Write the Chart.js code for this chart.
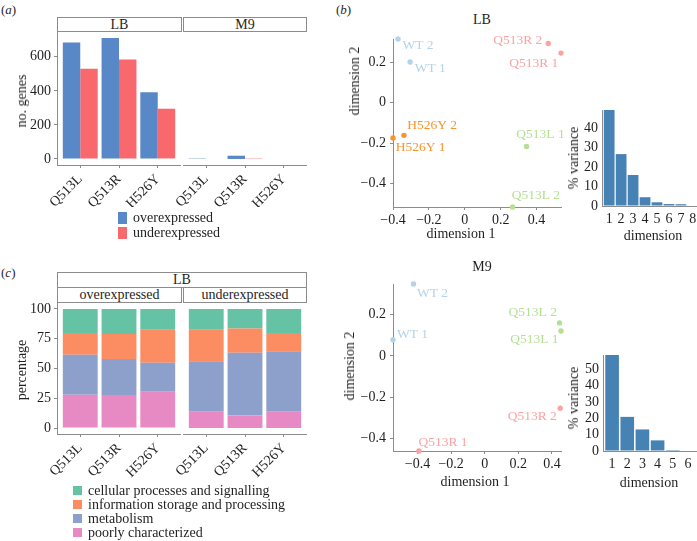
<!DOCTYPE html>
<html>
<head>
<meta charset="utf-8">
<script src="https://cdn.jsdelivr.net/npm/chart.js@4"></script>
<style>
  html, body { margin: 0; padding: 0; background: #fff; overflow: hidden; }
  #fig { position: relative; width: 697px; height: 541px; font-family: "Liberation Serif", "Times New Roman", serif; color: #1f1f1f; }
  #fig canvas { position: absolute; }
  .t { position: absolute; white-space: nowrap; font-size: 14px; line-height: 14px; transform: translate(-50%, -50%); }
  .v { transform: translate(-50%, -50%) rotate(-90deg); }
  .tag { position: absolute; font-size: 13px; line-height: 13px; }
  .strip { position: absolute; box-sizing: border-box; border: 1px solid #8c8c8c; text-align: center; font-size: 14px; line-height: 13px; background: #fff; }
  .key { position: absolute; width: 9px; }
  .lab { position: absolute; font-size: 14px; line-height: 14px; white-space: nowrap; }
</style>
</head>
<body>
<div id="fig">
  <div class="tag" style="left:1px;top:3px">(<i>a</i>)</div>
  <div class="tag" style="left:336px;top:3px">(<i>b</i>)</div>
  <div class="tag" style="left:1px;top:266px">(<i>c</i>)</div>

  <!-- panel (a) -->
  <div class="strip" style="left:57px;top:17px;width:125px;height:15px">LB</div>
  <div class="strip" style="left:183px;top:17px;width:124px;height:15px">M9</div>
  <canvas id="aLB" width="181" height="175" style="left:0;top:32px"></canvas>
  <canvas id="aM9" width="167" height="175" style="left:140px;top:32px"></canvas>
  <div class="t v" style="left:22px;top:101px">no. genes</div>
  <div class="key" style="left:118px;top:212px;height:12px;background:#5888c8"></div>
  <div class="key" style="left:118px;top:227px;height:12px;background:#f8686d"></div>
  <div class="lab" style="left:133px;top:211px">overexpressed</div>
  <div class="lab" style="left:133px;top:226px">underexpressed</div>

  <!-- panel (c) -->
  <div class="strip" style="left:57px;top:272px;width:250px;height:16px">LB</div>
  <div class="strip" style="left:57px;top:287px;width:125px;height:16px">overexpressed</div>
  <div class="strip" style="left:183px;top:287px;width:124px;height:16px">underexpressed</div>
  <canvas id="cOver" width="181" height="175" style="left:0;top:303px"></canvas>
  <canvas id="cUnder" width="167" height="175" style="left:140px;top:303px"></canvas>
  <div class="t v" style="left:22px;top:370px">percentage</div>
  <div id="cLegend"></div>

  <!-- panel (b) -->
  <div class="t" style="left:482px;top:20px">LB</div>
  <canvas id="bLB" width="231" height="210" style="left:340px;top:29px"></canvas>
  <canvas id="vLB" width="125" height="140" style="left:575px;top:100px"></canvas>
  <div class="t" style="left:461px;top:234px">dimension 1</div>
  <div class="t v" style="left:355px;top:81px">dimension 2</div>
  <div class="t v" style="left:574px;top:158px">% variance</div>
  <div class="t" style="left:653px;top:236px">dimension</div>

  <div class="t" style="left:482px;top:267px">M9</div>
  <canvas id="bM9" width="231" height="210" style="left:340px;top:274px"></canvas>
  <canvas id="vM9" width="122" height="140" style="left:575px;top:345px"></canvas>
  <div class="t" style="left:475px;top:482px">dimension 1</div>
  <div class="t v" style="left:350px;top:366px">dimension 2</div>
  <div class="t v" style="left:574px;top:398px">% variance</div>
  <div class="t" style="left:649px;top:483px">dimension</div>
</div>

<script>
// ---- data ----
const mutants = ["Q513L", "Q513R", "H526Y"];

// (a) number of differentially expressed genes
const lbOver = [684, 710, 391];
const lbUnder = [530, 584, 295];
const m9Over = [2, 19, 0];
const m9Under = [0, 2, 0];
const geneTicks = [0, 200, 400, 600];

// (c) functional categories of LB genes, percentage
const categories = ["cellular processes and signalling", "information storage and processing", "metabolism", "poorly characterized"];
const overCellular = [20.2, 21.0, 17.4];
const overInformation = [18.2, 21.0, 27.7];
const overMetabolism = [33.6, 30.3, 24.4];
const overPoorly = [28.0, 27.7, 30.5];
const underCellular = [17.4, 16.5, 20.2];
const underInformation = [26.6, 20.2, 15.4];
const underMetabolism = [42.3, 52.7, 50.7];
const underPoorly = [13.7, 10.6, 13.7];
const pctTicks = [0, 25, 50, 75, 100];

// (b) MDS plots
const lbSamples = ["WT 1", "WT 2", "Q513R 1", "Q513R 2", "H526Y 1", "H526Y 2", "Q513L 1", "Q513L 2"];
const lbDim1 = [-0.305, -0.372, 0.536, 0.465, -0.40, -0.339, 0.344, 0.266];
const lbDim2 = [0.203, 0.317, 0.247, 0.295, -0.175, -0.162, -0.217, -0.518];
const m9Samples = ["WT 1", "WT 2", "Q513L 1", "Q513L 2", "Q513R 1", "Q513R 2"];
const m9Dim1 = [-0.546, -0.424, 0.454, 0.445, -0.392, 0.449];
const m9Dim2 = [0.078, 0.349, 0.121, 0.160, -0.462, -0.254];
const dim1Ticks = [-0.4, -0.2, 0, 0.2, 0.4];
const dim2Ticks = [-0.4, -0.2, 0, 0.2];

const lbDims = [1, 2, 3, 4, 5, 6, 7, 8];
const lbVariance = [49.2, 26.6, 15.9, 4.5, 1.9, 1.0, 0.9, 0.0];
const lbVarTicks = [0, 10, 20, 30, 40];
const m9Dims = [1, 2, 3, 4, 5, 6];
const m9Variance = [58.8, 20.9, 13.2, 6.5, 0.6, 0.0];
const m9VarTicks = [0, 10, 20, 30, 40, 50];

// ---- styles ----
const FONT = "'Liberation Serif', 'Times New Roman', serif";
const GREY = "#8c8c8c";
const INK = "#1f1f1f";
const tickFont = { family: FONT, size: 14 };
const overColour = "#5888c8";
const underColour = "#f8686d";
const catColours = ["#66c2a5", "#fc8d62", "#8da0cb", "#e78ac3"];
const strainColours = { WT: "#b3d3ea", Q513L: "#b5df92", Q513R: "#f9a3a2", H526Y: "#f7942c" };

const lbLabelPos = {
  "WT 1": [4.7, 6.6, "left"], "WT 2": [4.4, 6, "left"],
  "Q513R 1": [-2.7, 10.3, "right"], "Q513R 2": [-6, -2.6, "right"],
  "H526Y 1": [2.7, 9.4, "left"], "H526Y 2": [3.2, -9.7, "left"],
  "Q513L 1": [14, -12.4, "center"], "Q513L 2": [23.3, -11.7, "center"]
};
const m9LabelPos = {
  "WT 1": [4, -5.7, "left"], "WT 2": [3.4, 9, "left"],
  "Q513L 1": [-2.4, 8.7, "right"], "Q513L 2": [-2.6, -10, "right"],
  "Q513R 1": [-0.4, -8.3, "left"], "Q513R 2": [-3.3, 8.4, "right"]
};

Chart.defaults.font.family = FONT;
Chart.defaults.color = INK;

// fixed axis sizes so the plot areas line up with the facet strips
function fitAxis(size) {
  return scale => {
    if (scale.isHorizontal()) scale.height = size;
    else scale.width = size;
    scale.paddingLeft = scale.paddingRight = scale.paddingTop = scale.paddingBottom = 0;
  };
}
function setTicks(values) {
  return scale => { scale.ticks = values.map(v => ({ value: v })); };
}
const asPoints = arr => arr.map((v, i) => ({ x: i + 1, y: v }));
const signed = v => (v < 0 ? "\u2212" : "") + (v === 0 ? "0" : Math.abs(v).toFixed(1));

function baseOptions(padding) {
  return {
    responsive: false,
    animation: false,
    devicePixelRatio: 1,
    layout: { padding: Object.assign({ left: 0, right: 0, top: 0, bottom: 0 }, padding) },
    plugins: { legend: { display: false }, tooltip: { enabled: false } },
  };
}

function facetChart(id, datasets, o) {
  const opts = baseOptions({ left: o.padLeft || 0 });
  opts.scales = {
    x: {
      type: "linear", min: 0.4, max: 3.6, offset: false, stacked: !!o.stacked,
      afterBuildTicks: setTicks(mutants.map((m, i) => i + 1)),
      afterFit: fitAxis(o.xh),
      grid: { drawOnChartArea: false, offset: false, tickLength: 3, color: GREY },
      border: { color: GREY },
      ticks: { autoSkip: false, minRotation: 45, maxRotation: 45, padding: 3, font: tickFont, color: INK,
               callback: v => mutants[v - 1] },
    },
    y: {
      display: o.showY, min: o.yMin, max: o.yMax, stacked: !!o.stacked,
      afterBuildTicks: setTicks(o.yTicks),
      grid: { drawOnChartArea: false, tickLength: 3, color: GREY },
      border: { color: GREY },
      ticks: { autoSkip: false, padding: 3, font: tickFont, color: INK },
    },
  };
  if (o.showY) opts.scales.y.afterFit = fitAxis(57);
  return new Chart(document.getElementById(id), { type: "bar", data: { datasets }, options: opts });
}

// ---- panel (a) ----
const geneMax = Math.max(...lbOver, ...lbUnder, ...m9Over, ...m9Under);
function geneSets(over, under) {
  return [
    { label: "overexpressed", data: asPoints(over), backgroundColor: overColour, barPercentage: 1, categoryPercentage: 0.9 },
    { label: "underexpressed", data: asPoints(under), backgroundColor: underColour, barPercentage: 1, categoryPercentage: 0.9 },
  ];
}
const aOpts = { xh: 42, yMin: -0.05 * geneMax, yMax: 1.05 * geneMax, yTicks: geneTicks };
facetChart("aLB", geneSets(lbOver, lbUnder), Object.assign({ showY: true }, aOpts));
facetChart("aM9", geneSets(m9Over, m9Under), Object.assign({ showY: false, padLeft: 43 }, aOpts));

// ---- panel (c) ----
function categorySets(poorly, metabolism, information, cellular) {
  // stacked bottom to top
  return [[poorly, 3], [metabolism, 2], [information, 1], [cellular, 0]].map(([vals, c]) => ({
    label: categories[c], data: asPoints(vals), backgroundColor: catColours[c],
    barPercentage: 1, categoryPercentage: 0.9,
  }));
}
const cOpts = { xh: 44, yMin: -5, yMax: 105, yTicks: pctTicks, stacked: true };
facetChart("cOver", categorySets(overPoorly, overMetabolism, overInformation, overCellular), Object.assign({ showY: true }, cOpts));
facetChart("cUnder", categorySets(underPoorly, underMetabolism, underInformation, underCellular), Object.assign({ showY: false, padLeft: 43 }, cOpts));

const cLegend = document.getElementById("cLegend");
categories.forEach((name, i) => {
  const top = 486 + i * 14;
  cLegend.insertAdjacentHTML("beforeend",
    `<div class="key" style="left:73px;top:${top}px;height:9px;background:${catColours[i]}"></div>` +
    `<div class="lab" style="left:88px;top:${top - 2}px">${name}</div>`);
});

// ---- panel (b) ----
const strainOf = name => name.split(" ")[0];

function labelPlugin(names, pos) {
  return {
    id: "sampleLabels",
    afterDatasetsDraw(chart) {
      const ctx = chart.ctx;
      ctx.save();
      ctx.font = `13.5px ${FONT}`;
      ctx.textBaseline = "middle";
      chart.getDatasetMeta(0).data.forEach((pt, i) => {
        const [dx, dy, align] = pos[names[i]];
        ctx.fillStyle = strainColours[strainOf(names[i])];
        ctx.textAlign = align;
        ctx.fillText(names[i], pt.x + dx, pt.y + dy);
      });
      ctx.restore();
    },
  };
}

function mdsChart(id, names, d1, d2, pos, xh) {
  const opts = baseOptions({ top: 10, right: 10 });
  opts.scales = {
    x: {
      type: "linear", min: Math.min(...d1), max: Math.max(...d1),
      afterBuildTicks: setTicks(dim1Ticks), afterFit: fitAxis(xh),
      grid: { drawOnChartArea: false, tickLength: 3, color: GREY },
      border: { color: GREY },
      ticks: { autoSkip: false, maxRotation: 0, padding: 2, font: tickFont, color: INK, callback: signed },
    },
    y: {
      type: "linear", min: Math.min(...d2), max: Math.max(...d2),
      afterBuildTicks: setTicks(dim2Ticks), afterFit: fitAxis(53),
      grid: { drawOnChartArea: false, tickLength: 3, color: GREY },
      border: { color: GREY },
      ticks: { autoSkip: false, padding: 4, font: tickFont, color: INK, callback: signed },
    },
  };
  return new Chart(document.getElementById(id), {
    type: "scatter",
    data: { datasets: [{
      data: d1.map((x, i) => ({ x, y: d2[i] })),
      pointRadius: 2.7, pointBorderWidth: 0, clip: false,
      pointBackgroundColor: names.map(n => strainColours[strainOf(n)]),
    }] },
    options: opts,
    plugins: [labelPlugin(names, pos)],
  });
}

function varianceChart(id, dims, values, yTicks, yw) {
  const opts = baseOptions({ top: 10 });
  opts.scales = {
    x: {
      type: "linear", min: 0.4, max: dims.length + 0.6, offset: false,
      afterBuildTicks: setTicks(dims), afterFit: fitAxis(34),
      grid: { drawOnChartArea: false, drawTicks: false, offset: false },
      border: { color: GREY },
      ticks: { autoSkip: false, maxRotation: 0, padding: 5, font: tickFont, color: INK },
    },
    y: {
      min: 0, max: Math.max(...values),
      afterBuildTicks: setTicks(yTicks), afterFit: fitAxis(yw),
      grid: { drawOnChartArea: false, drawTicks: false },
      border: { color: GREY },
      ticks: { autoSkip: false, padding: 4, font: tickFont, color: INK },
    },
  };
  return new Chart(document.getElementById(id), {
    type: "bar",
    data: { datasets: [{ data: values.map((v, i) => ({ x: dims[i], y: v })), backgroundColor: "#4682b4",
                         barPercentage: 1, categoryPercentage: 0.9 }] },
    options: opts,
  });
}

mdsChart("bLB", lbSamples, lbDim1, lbDim2, lbLabelPos, 32);
mdsChart("bM9", m9Samples, m9Dim1, m9Dim2, m9LabelPos, 33);
varianceChart("vLB", lbDims, lbVariance, lbVarTicks, 27);
varianceChart("vM9", m9Dims, m9Variance, m9VarTicks, 28);
</script>
</body>
</html>
